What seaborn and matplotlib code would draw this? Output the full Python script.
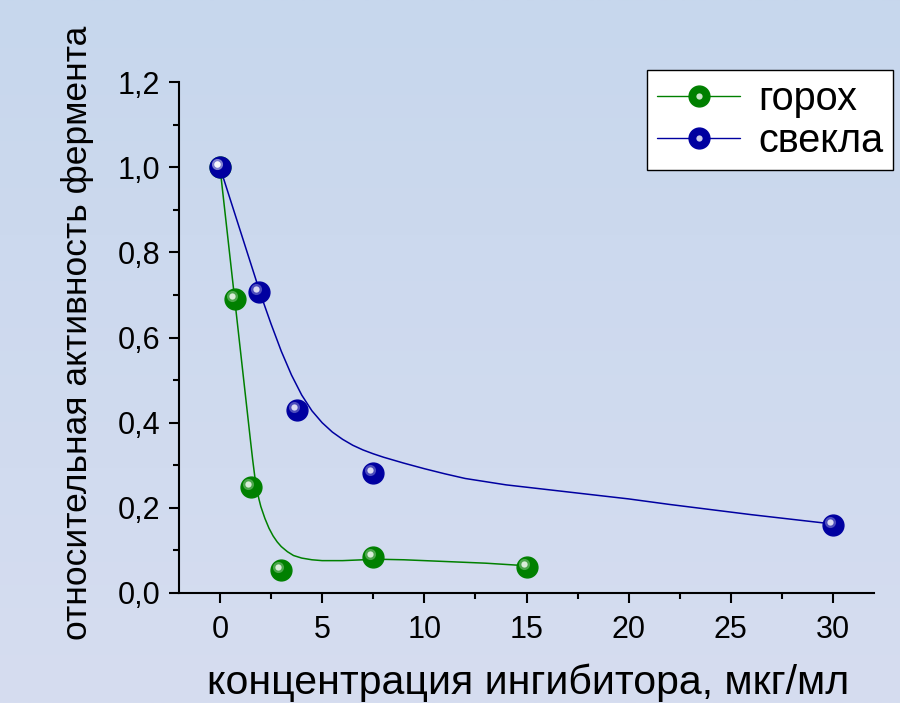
import numpy as np
import pandas as pd
import matplotlib
matplotlib.use('Agg')
import matplotlib.pyplot as plt
from matplotlib import font_manager
from matplotlib.lines import Line2D
from matplotlib.legend_handler import HandlerTuple
from matplotlib.transforms import offset_copy
from matplotlib.colors import LinearSegmentedColormap
from matplotlib.ticker import MultipleLocator, FuncFormatter
import seaborn as sns

# measured points
pea_x = [0, 0.75, 1.5, 3, 7.5, 15]
pea_y = [1.0, 0.69, 0.25, 0.055, 0.085, 0.062]
beet_x = [0, 1.9, 3.75, 7.5, 30]
beet_y = [1.0, 0.707, 0.43, 0.283, 0.16]

# smoothed curves
pea_curve_x = [0, 0.5, 1.0, 1.5, 1.6, 1.7, 1.8, 1.9, 2.0, 2.2, 2.4, 2.6, 2.8, 3.0,
               3.3, 3.6, 4.0, 4.5, 5, 6, 7, 8, 9, 10, 11, 12, 13, 14, 15]
pea_curve_y = [1.0, 0.785, 0.57, 0.355, 0.313, 0.275, 0.245, 0.222, 0.203, 0.175,
               0.152, 0.134, 0.12, 0.109, 0.097, 0.088, 0.082, 0.078, 0.076, 0.076,
               0.078, 0.079, 0.078, 0.076, 0.074, 0.072, 0.07, 0.067, 0.064]
beet_curve_x = [0, 0.5, 1, 1.5, 2, 2.5, 3, 3.5, 4, 4.5, 5, 5.5, 6, 6.5, 7, 7.5, 8,
                9, 10, 11, 12, 14, 16, 18, 20, 22, 24, 26, 28, 30]
beet_curve_y = [1.0, 0.925, 0.85, 0.775, 0.70, 0.632, 0.568, 0.512, 0.465, 0.428,
                0.400, 0.378, 0.361, 0.347, 0.336, 0.327, 0.319, 0.305, 0.292, 0.280,
                0.269, 0.254, 0.243, 0.232, 0.221, 0.208, 0.196, 0.184, 0.173, 0.162]

series_names = ['горох', 'свекла']
series_colors = ['#008000', '#0000A0']

x_label = 'концентрация ингибитора, мкг/мл'
y_label = 'относительная активность фермента'

sns.set_style('ticks')
names = {f.name for f in font_manager.fontManager.ttflist}
fam = 'Liberation Sans Narrow' if 'Liberation Sans Narrow' in names else 'Liberation Sans'
plt.rcParams['font.family'] = [fam, 'DejaVu Sans']
for k in ['text.color', 'axes.labelcolor', 'xtick.color', 'ytick.color']:
    plt.rcParams[k] = 'black'

fig = plt.figure(figsize=(9, 7.03), dpi=100)

# background gradient
bg = fig.add_axes([0, 0, 1, 1], zorder=-1)
cmap = LinearSegmentedColormap.from_list('bg', ['#C7D7ED', '#D6DDF0'])
bg.imshow(np.linspace(0, 1, 256).reshape(-1, 1), aspect='auto', cmap=cmap,
          extent=[0, 1, 0, 1])
bg.axis('off')

ax = fig.add_axes([0.199, 0.1565, 0.772, 0.7266])
ax.set_facecolor('none')

curves = pd.concat([
    pd.DataFrame({'x': pea_curve_x, 'y': pea_curve_y, 's': series_names[0]}),
    pd.DataFrame({'x': beet_curve_x, 'y': beet_curve_y, 's': series_names[1]}),
])
sns.lineplot(data=curves, x='x', y='y', hue='s', palette=series_colors,
             sort=False, lw=1.1, legend=False, ax=ax)

# spheres with a highlight
hl = offset_copy(ax.transData, fig=fig, x=-3, y=3, units='dots')
for xs, ys, c in [(pea_x, pea_y, series_colors[0]), (beet_x, beet_y, series_colors[1])]:
    ax.plot(xs, ys, 'o', ms=15, color=c, mec=c, zorder=5)
    ax.plot(xs, ys, 'o', ms=8, color='white', mec='none', alpha=0.3, transform=hl, zorder=6)
    ax.plot(xs, ys, 'o', ms=4.5, color='white', mec='none', alpha=0.8, transform=hl, zorder=7)

ax.set_xlim(-2, 32)
ax.set_ylim(0, 1.2)
ax.xaxis.set_major_locator(MultipleLocator(5))
ax.xaxis.set_minor_locator(MultipleLocator(2.5))
ax.yaxis.set_major_locator(MultipleLocator(0.2))
ax.yaxis.set_minor_locator(MultipleLocator(0.1))
ax.yaxis.set_major_formatter(FuncFormatter(lambda v, p: f'{v:.1f}'.replace('.', ',')))
ax.tick_params(which='major', length=7.5, width=1.5, labelsize=22, color='black', pad=6)
ax.tick_params(axis='x', which='major', pad=8)
ax.tick_params(which='minor', length=4, width=1.5, color='black')
for s in ['top', 'right']:
    ax.spines[s].set_visible(False)
for s in ['left', 'bottom']:
    ax.spines[s].set_linewidth(1.5)
    ax.spines[s].set_color('black')

ax.set_xlabel(x_label, fontsize=29.5, va='top')
ax.set_ylabel(y_label, fontsize=25.5)
ax.xaxis.set_label_coords(0.502, -0.138)
ax.yaxis.set_label_coords(-0.122, 0.51)

handles = []
for c in series_colors:
    h1 = Line2D([], [], color=c, lw=1, marker='o', ms=15, mfc=c, mec=c)
    h2 = Line2D([], [], ls='none', marker='o', ms=4.5, mfc='white', mec='none', alpha=0.8)
    handles.append((h1, h2))
leg = ax.legend(handles, series_names, handler_map={tuple: HandlerTuple(ndivide=1)},
                loc='upper right', bbox_to_anchor=(893 / 900, 1 - 70 / 703),
                bbox_transform=fig.transFigure, borderaxespad=0, fontsize=28.5,
                frameon=True, fancybox=False, edgecolor='black', facecolor='white',
                framealpha=1, handlelength=2.1, handletextpad=0.45, labelspacing=0.1,
                borderpad=0.25, numpoints=1)
leg.get_frame().set_linewidth(1)

fig.savefig('out.png', dpi=100)
